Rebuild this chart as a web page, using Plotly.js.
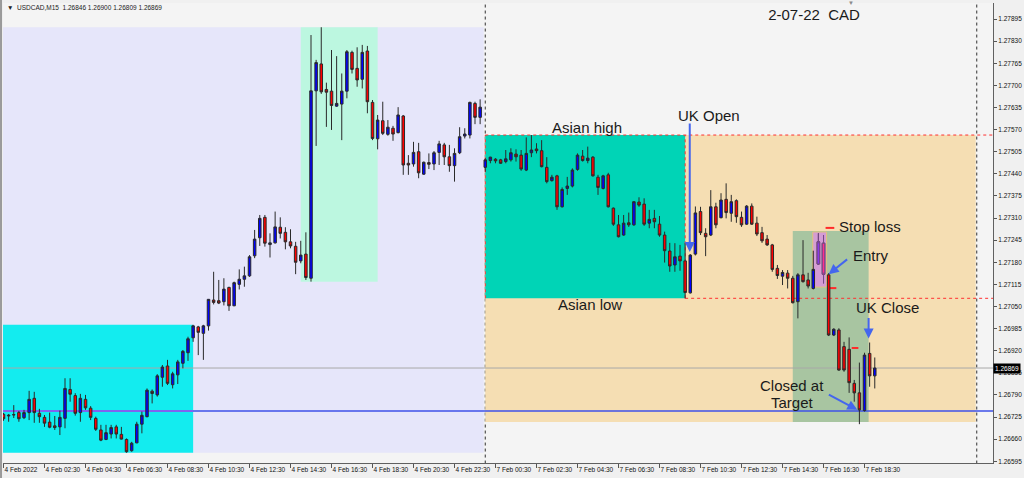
<!DOCTYPE html>
<html><head><meta charset="utf-8">
<script src="https://cdn.plot.ly/plotly-3.0.1.min.js"></script>
<style>html,body{margin:0;padding:0;background:#f0f0f0;}#chart{width:1024px;height:478px;}</style>
</head><body><div id="chart"></div>
<script>
// USDCAD M15, bars from 4 Feb 2022 00:30 (index 0) to 7 Feb 2022 19:00 (index 170)
const openP = [
1.26733,1.26728,1.26731,1.26738,1.26723,1.26738,1.26780,1.26736,1.26724,1.26710,
1.26699,1.26696,1.26721,1.26806,1.26788,1.26738,1.26777,1.26751,1.26721,1.26687,
1.26659,1.26675,1.26696,1.26674,1.26659,1.26626,1.26649,1.26704,1.26726,1.26801,
1.26790,1.26842,1.26875,1.26820,1.26849,1.26883,1.26914,1.26958,1.26990,1.26971,
1.26993,1.27069,1.27067,1.27064,1.27106,1.27052,1.27115,1.27130,1.27140,1.27199,
1.27252,1.27312,1.27232,1.27237,1.27283,1.27268,1.27240,1.27227,1.27184,1.27204,
1.27133,1.27684,1.27763,1.27688,1.27683,1.27639,1.27645,1.27683,1.27797,1.27750,
1.27718,1.27801,1.27650,1.27543,1.27596,1.27556,1.27574,1.27561,1.27610,1.27471,
1.27469,1.27505,1.27439,1.27473,1.27469,1.27503,1.27525,1.27490,1.27464,1.27502,
1.27551,1.27554,1.27647,1.27606,1.27459,1.27479,1.27483,1.27481,1.27476,1.27481,
1.27498,1.27495,1.27451,1.27502,1.27513,1.27508,1.27459,1.27420,1.27434,1.27343,
1.27397,1.27404,1.27453,1.27492,1.27479,1.27489,1.27430,1.27397,1.27437,1.27339,
1.27290,1.27260,1.27296,1.27290,1.27357,1.27351,1.27295,1.27309,1.27292,1.27260,
1.27213,1.27172,1.27198,1.27184,1.27090,1.27204,1.27329,1.27265,1.27260,1.27343,
1.27311,1.27365,1.27324,1.27361,1.27312,1.27292,1.27345,1.27295,1.27267,1.27248,
1.27231,1.27162,1.27139,1.27148,1.27133,1.27064,1.27143,1.27128,1.27103,1.27175,
1.27236,1.27143,1.26966,1.26981,1.26932,1.26924,1.26824,1.26796,1.26744,1.26912,
1.26846];
const highP = [
1.26737,1.26734,1.26760,1.26743,1.26746,1.26802,1.26799,1.26749,1.26731,1.26738,
1.26728,1.26744,1.26839,1.26839,1.26795,1.26793,1.26790,1.26757,1.26726,1.26702,
1.26702,1.26702,1.26702,1.26696,1.26662,1.26652,1.26711,1.26741,1.26809,1.26806,
1.26851,1.26878,1.26893,1.26858,1.26893,1.26922,1.26961,1.26996,1.26993,1.26996,
1.27072,1.27152,1.27128,1.27133,1.27108,1.27123,1.27159,1.27167,1.27201,1.27275,
1.27319,1.27319,1.27265,1.27329,1.27312,1.27283,1.27277,1.27240,1.27243,1.27268,
1.27848,1.27775,1.27871,1.27708,1.27804,1.27786,1.27735,1.27804,1.27802,1.27812,
1.27819,1.27816,1.27657,1.27613,1.27652,1.27598,1.27581,1.27636,1.27613,1.27495,
1.27534,1.27531,1.27476,1.27500,1.27507,1.27537,1.27531,1.27525,1.27515,1.27577,
1.27574,1.27652,1.27652,1.27659,1.27486,1.27490,1.27486,1.27484,1.27510,1.27515,
1.27512,1.27510,1.27547,1.27554,1.27530,1.27539,1.27489,1.27437,1.27437,1.27400,
1.27431,1.27456,1.27500,1.27510,1.27520,1.27492,1.27437,1.27437,1.27443,1.27341,
1.27319,1.27319,1.27326,1.27360,1.27371,1.27368,1.27334,1.27334,1.27316,1.27270,
1.27237,1.27236,1.27231,1.27236,1.27204,1.27344,1.27343,1.27280,1.27392,1.27355,
1.27383,1.27412,1.27378,1.27365,1.27329,1.27348,1.27353,1.27314,1.27284,1.27260,
1.27234,1.27172,1.27157,1.27157,1.27140,1.27148,1.27245,1.27149,1.27214,1.27265,
1.27260,1.27148,1.26986,1.26986,1.26946,1.26959,1.26834,1.26885,1.26914,1.26944,
1.26900];
const lowP = [
1.26714,1.26711,1.26722,1.26711,1.26719,1.26716,1.26708,1.26708,1.26696,1.26692,
1.26687,1.26672,1.26692,1.26770,1.26729,1.26711,1.26746,1.26716,1.26684,1.26654,
1.26657,1.26662,1.26662,1.26659,1.26620,1.26623,1.26648,1.26677,1.26724,1.26765,
1.26785,1.26814,1.26819,1.26809,1.26822,1.26868,1.26890,1.26946,1.26907,1.26893,
1.26979,1.27056,1.27057,1.27053,1.27037,1.27051,1.27100,1.27108,1.27137,1.27192,
1.27228,1.27226,1.27194,1.27235,1.27250,1.27218,1.27221,1.27145,1.27177,1.27128,
1.27123,1.27522,1.27675,1.27578,1.27569,1.27637,1.27539,1.27662,1.27735,1.27696,
1.27691,1.27618,1.27539,1.27512,1.27554,1.27552,1.27537,1.27559,1.27437,1.27437,
1.27461,1.27427,1.27437,1.27454,1.27451,1.27466,1.27466,1.27446,1.27417,1.27498,
1.27544,1.27544,1.27586,1.27586,1.27446,1.27471,1.27471,1.27469,1.27471,1.27476,
1.27476,1.27449,1.27448,1.27489,1.27500,1.27459,1.27412,1.27417,1.27334,1.27341,
1.27378,1.27400,1.27449,1.27476,1.27471,1.27432,1.27378,1.27394,1.27341,1.27287,
1.27253,1.27258,1.27284,1.27287,1.27343,1.27287,1.27280,1.27280,1.27255,1.27179,
1.27152,1.27152,1.27155,1.27074,1.27088,1.27200,1.27260,1.27198,1.27257,1.27280,
1.27309,1.27309,1.27299,1.27296,1.27284,1.27290,1.27290,1.27257,1.27237,1.27228,
1.27152,1.27131,1.27113,1.27103,1.27059,1.27015,1.27120,1.27103,1.27100,1.27172,
1.27118,1.26963,1.26963,1.26861,1.26858,1.26796,1.26770,1.26704,1.26741,1.26814,
1.26809];
const closeP = [
1.26720,1.26730,1.26732,1.26720,1.26738,1.26777,1.26738,1.26726,1.26707,1.26695,
1.26694,1.26724,1.26809,1.26792,1.26736,1.26780,1.26752,1.26724,1.26689,1.26657,
1.26679,1.26694,1.26675,1.26660,1.26623,1.26648,1.26704,1.26730,1.26804,1.26794,
1.26846,1.26872,1.26824,1.26852,1.26887,1.26918,1.26955,1.26993,1.26974,1.26993,
1.27071,1.27062,1.27060,1.27101,1.27052,1.27120,1.27130,1.27140,1.27196,1.27248,
1.27309,1.27236,1.27237,1.27284,1.27265,1.27240,1.27228,1.27180,1.27201,1.27135,
1.27684,1.27767,1.27681,1.27680,1.27641,1.27647,1.27683,1.27799,1.27747,1.27716,
1.27797,1.27652,1.27544,1.27598,1.27559,1.27577,1.27557,1.27613,1.27466,1.27466,
1.27503,1.27443,1.27474,1.27468,1.27502,1.27528,1.27490,1.27464,1.27500,1.27549,
1.27557,1.27650,1.27606,1.27636,1.27481,1.27489,1.27478,1.27471,1.27484,1.27502,
1.27490,1.27454,1.27500,1.27510,1.27508,1.27461,1.27417,1.27430,1.27343,1.27394,
1.27404,1.27451,1.27495,1.27479,1.27486,1.27434,1.27400,1.27434,1.27343,1.27292,
1.27255,1.27295,1.27290,1.27358,1.27348,1.27292,1.27306,1.27299,1.27260,1.27214,
1.27169,1.27196,1.27184,1.27091,1.27201,1.27325,1.27267,1.27255,1.27343,1.27290,
1.27363,1.27326,1.27358,1.27314,1.27290,1.27345,1.27292,1.27263,1.27243,1.27231,
1.27159,1.27141,1.27150,1.27133,1.27061,1.27143,1.27123,1.27110,1.27159,1.27240,
1.27145,1.26966,1.26983,1.26863,1.26863,1.26826,1.26796,1.26746,1.26907,1.26846,
1.26869];

const xTickLabels = ["4 Feb 2022","4 Feb 02:30","4 Feb 04:30","4 Feb 06:30","4 Feb 08:30","4 Feb 10:30",
"4 Feb 12:30","4 Feb 14:30","4 Feb 16:30","4 Feb 18:30","4 Feb 20:30","4 Feb 22:30",
"7 Feb 00:30","7 Feb 02:30","7 Feb 04:30","7 Feb 06:30","7 Feb 08:30","7 Feb 10:30",
"7 Feb 12:30","7 Feb 14:30","7 Feb 16:30","7 Feb 18:30"];
const xTickBars = [0,8,16,24,32,40,48,56,64,72,80,88,96,104,112,120,128,136,144,152,160,168];
const yTickValues = [1.26595,1.26660,1.26725,1.26790,1.26855,1.26920,1.26985,1.27050,1.27115,1.27180,
1.27245,1.27310,1.27375,1.27440,1.27505,1.27570,1.27635,1.27700,1.27765,1.27830,1.27895];

// session boxes (bar index ranges)
const day1Bars = [0, 93];        // 4 Feb
const asia1Bars = [0, 37];       // 4 Feb Asian
const london1Bars = [58, 73];    // 4 Feb move
const asia2Bars = [94, 133];     // 7 Feb Asian
const projLow = 1.26710;
const ukBox = {x:[154, 168.8], y:[1.26710, 1.27272]};
const setupBox = {x:[157.9, 160.6], y:[1.27107, 1.27269]};
const stopLoss = 1.27281, entry = 1.27104, trail = 1.26928, target = 1.26743;

const idx = openP.map((_, i) => i);
const rng = (a, b) => {
  const hs = highP.slice(a, b + 1), ls = lowP.slice(a, b + 1);
  return [Math.min(...ls), Math.max(...hs)];
};
const day1 = rng(...day1Bars), asia1 = rng(...asia1Bars), lon1 = rng(...london1Bars), asia2 = rng(...asia2Bars);
const last = openP.length - 1;
const XR = [-0.1, 193.07];

const rect = (x0, x1, y0, y1, color, extra) => Object.assign({type:'rect', xref:'x', yref:'y', x0, x1, y0, y1,
  fillcolor: color, line:{width:0}, layer:'below'}, extra || {});
const hline = (x0, x1, y, color, width, dash) => ({type:'line', xref:'x', yref:'y', x0, x1, y0:y, y1:y,
  line:{color, width, dash: dash || 'solid'}, layer:'below'});
const vline = (x, y0, y1, color, dash) => ({type:'line', xref:'x', yref:'y', x0:x, x1:x, y0, y1,
  line:{color, width:1, dash}, layer:'below'});

const shapes = [
  vline(94, 1.2650, 1.2800, '#303030', 'dot'),
  vline(189.9, 1.2650, 1.2800, '#303030', 'dot'),
  rect(day1Bars[0] - 1, day1Bars[1] + 0.7, day1[0], day1[1], '#e6e6fa'),
  rect(asia1Bars[0] - 1, asia1Bars[1], asia1[0], asia1[1], '#13ecef'),
  rect(london1Bars[0], london1Bars[1], lon1[0], lon1[1], '#bcf7e0'),
  rect(asia2Bars[0], 189.7, projLow, asia2[1], '#f5deb3'),
  rect(asia2Bars[0], asia2Bars[1], asia2[0], asia2[1], '#00d4b6'),
  rect(ukBox.x[0], ukBox.x[1], ukBox.y[0], ukBox.y[1], '#a8c5a1'),
  rect(setupBox.x[0], setupBox.x[1], setupBox.y[0], setupBox.y[1], '#d49cd4', {line:{color:'#e2c27a', width:1}}),
  hline(asia2Bars[0], XR[1], asia2[1], '#ff3030', 1, 'dot'),
  hline(asia2Bars[1], XR[1], asia2[0], '#ff3030', 1, 'dot'),
  vline(asia2Bars[0], asia2[0], asia2[1], '#ff3030', 'dot'),
  vline(asia2Bars[1], asia2[0], asia2[1], '#ff3030', 'dot'),
  hline(XR[0], XR[1], closeP[last], '#a8a8a8', 1),
  hline(XR[0], XR[1], target, '#3e50e8', 1.5),
  hline(XR[0], asia1Bars[1], target, '#9a5cf0', 1.5),
  hline(160.4, 162.1, stopLoss, '#ff2a2a', 2),
  hline(161.2, 162.5, entry, '#ff2a2a', 2),
  hline(165.5, 166.8, trail, '#ff2a2a', 2),
  {type:'line', xref:'paper', yref:'paper', x0:-0.002, x1:-0.002, y0:-0.04, y1:1.01, line:{color:'#9a9a9a', width:2}}
];

const lbl = (text, x, y, extra) => Object.assign({text, x, y, xref:'x', yref:'y', showarrow:false,
  font:{family:'Liberation Sans, Arial, sans-serif', size:15, color:'#1a1a1a'}, xanchor:'center', yanchor:'middle'}, extra || {});
const arrow = (x, y, ax, ay) => ({text:'', x, y, xref:'x', yref:'y', ax, ay, showarrow:true,
  arrowhead:2, arrowsize:1, arrowwidth:2, arrowcolor:'#4466ee', standoff:0});

const annotations = [
  lbl('Asian high', 113.8, 1.27575),
  lbl('UK Open', 137.6, 1.27610),
  lbl('Asian low', 114.5, 1.27057),
  lbl('Stop loss', 169.0, 1.27284),
  lbl('Entry', 169.3, 1.27201),
  lbl('UK Close', 172.4, 1.27048),
  lbl('Closed at', 153.9, 1.26819),
  lbl('Target', 153.9, 1.26769),
  arrow(133.9, 1.27210, 0, -130),
  arrow(161.0, 1.27145, 20, -16),
  arrow(168.8, 1.26956, 0, -22),
  arrow(166.6, 1.26746, -30, -16),
  {text:'\u25BC  USDCAD,M15  ' + [openP[last], highP[last], lowP[last], closeP[last]].map(v => v.toFixed(5)).join(' '),
   xref:'paper', yref:'paper', x:0.002, y:0.9913, xanchor:'left', yanchor:'middle', showarrow:false,
   font:{family:'Liberation Sans, Arial, sans-serif', size:6.5, color:'#222'}},
  {text:'\u25BC', xref:'paper', yref:'paper', x:0.857, y:1.001, xanchor:'center', yanchor:'middle', showarrow:false,
   font:{size:6, color:'#8a8a8a'}},
  {text:closeP[last].toFixed(5), xref:'paper', yref:'y', x:1.0, y:closeP[last], xanchor:'left', yanchor:'middle',
   showarrow:false, bgcolor:'#000000', borderpad:1, font:{family:'Liberation Sans, Arial, sans-serif', size:6.5, color:'#ffffff'}}
];

const traces = [
  {type:'candlestick', x: idx, open: openP, high: highP, low: lowP, close: closeP,
   increasing:{line:{color:'#2a2a2a', width:1}, fillcolor:'#0000ff'},
   decreasing:{line:{color:'#2a2a2a', width:1}, fillcolor:'#ff0000'},
   whiskerwidth:0, hoverinfo:'skip', showlegend:false},
  {type:'candlestick', x: [159, 160], open: [openP[159], openP[160]], high: [highP[159], highP[160]],
   low: [lowP[159], lowP[160]], close: [closeP[159], closeP[160]],
   increasing:{line:{color:'#7a4a8a', width:1}, fillcolor:'#8a3ae6'},
   decreasing:{line:{color:'#7a4a8a', width:1}, fillcolor:'#ff2f8f'},
   whiskerwidth:0, hoverinfo:'skip', showlegend:false}
];

const layout = {
  width:1024, height:478, margin:{l:3, r:31, t:3, b:15},
  paper_bgcolor:'#f0f0f0', plot_bgcolor:'#f4f4f4', showlegend:false,
  title:{text:'2-07-22 \u00a0CAD', x:814/1024, y:1 - 15/478, xanchor:'center', yanchor:'middle',
         font:{family:'Liberation Sans, Arial, sans-serif', size:15, color:'#1a1a1a'}},
  xaxis:{range:XR, showgrid:false, zeroline:false, tickmode:'array', tickvals:xTickBars, ticktext:xTickLabels,
         ticks:'outside', ticklen:4, tickcolor:'#555', ticklabelposition:'outside right', tickangle:0,
         ticklabelstandoff:0, automargin:false,
         tickfont:{family:'Liberation Sans, Arial, sans-serif', size:6.5, color:'#111'},
         showline:true, linecolor:'#606060', linewidth:1, rangeslider:{visible:false}, fixedrange:true},
  yaxis:{side:'right', range:[1.265898, 1.279422], showgrid:false, zeroline:false, tickmode:'array',
         tickvals:yTickValues, tickformat:'.5f', ticks:'outside', ticklen:3, tickcolor:'#555',
         tickfont:{family:'Liberation Sans, Arial, sans-serif', size:6.5, color:'#111'},
         showline:true, linecolor:'#606060', linewidth:1, fixedrange:true, automargin:false},
  shapes, annotations
};

Plotly.newPlot('chart', traces, layout, {displayModeBar:false, staticPlot:true});
</script></body></html>
